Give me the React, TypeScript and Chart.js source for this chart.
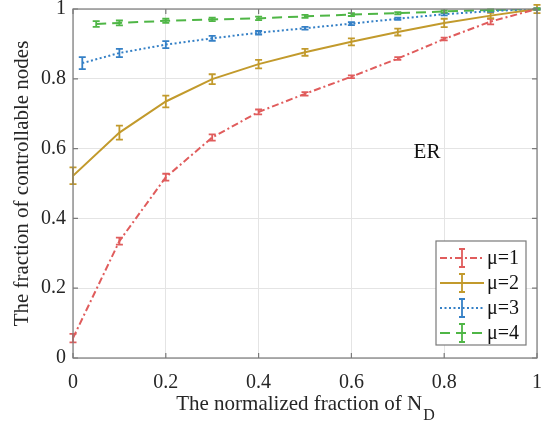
import React, { useEffect, useRef } from "react";
import { Chart, registerables } from "chart.js";
Chart.register(...registerables);

const xMain = [0, 0.1, 0.2, 0.3, 0.4, 0.5, 0.6, 0.7, 0.8, 0.9, 1.0];
const xBlue = [0.02, 0.1, 0.2, 0.3, 0.4, 0.5, 0.6, 0.7, 0.8, 0.9, 1.0];
const xGreen = [0.05, 0.1, 0.2, 0.3, 0.4, 0.5, 0.6, 0.7, 0.8, 0.9, 1.0];

const mu1 = [0.057, 0.335, 0.518, 0.632, 0.705, 0.757, 0.806, 0.858, 0.914, 0.964, 1.0];
const mu1Err = [0.012, 0.01, 0.01, 0.009, 0.007, 0.005, 0.004, 0.004, 0.004, 0.008, 0.002];
const mu2 = [0.522, 0.646, 0.735, 0.799, 0.842, 0.876, 0.906, 0.934, 0.96, 0.981, 1.0];
const mu2Err = [0.024, 0.02, 0.017, 0.014, 0.012, 0.01, 0.01, 0.01, 0.012, 0.008, 0.012];
const mu3 = [0.845, 0.874, 0.898, 0.916, 0.932, 0.945, 0.958, 0.972, 0.985, 0.994, 1.0];
const mu3Err = [0.017, 0.012, 0.01, 0.007, 0.005, 0.004, 0.004, 0.003, 0.003, 0.002, 0.002];
const mu4 = [0.957, 0.96, 0.966, 0.97, 0.973, 0.979, 0.984, 0.988, 0.993, 0.997, 1.0];
const mu4Err = [0.008, 0.007, 0.006, 0.005, 0.005, 0.004, 0.004, 0.003, 0.003, 0.002, 0.002];

const seriesLabels = ["\u03bc=1", "\u03bc=2", "\u03bc=3", "\u03bc=4"];
const tickValues = [0, 0.2, 0.4, 0.6, 0.8, 1];
const xTitle = "The normalized fraction of N";
const xTitleSub = "D";
const yTitle = "The fraction of controllable nodes";
const annotation = "ER";

const COLORS = ["#E05C5C", "#C29A2C", "#3580C6", "#4FB646"];
const DASHES = [[7, 3, 2, 3], [], [2, 2.5], [10, 6]];
const FONT = "'Liberation Serif', 'Times New Roman', serif";
const AXIS = "#7a7a7a";

const fmt = (v: number) => String(Number(v.toFixed(1)));

export default function App() {
  const ref = useRef<HTMLCanvasElement | null>(null);
  useEffect(() => {
    const canvas = ref.current;
    if (!canvas) return;
    const xs = [xMain, xMain, xBlue, xGreen];
    const ys = [mu1, mu2, mu3, mu4];
    const errs = [mu1Err, mu2Err, mu3Err, mu4Err];

    const overlay = {
      id: "overlay",
      afterDatasetsDraw(chart: any) {
        const ctx = chart.ctx;
        const xS = chart.scales.x;
        const yS = chart.scales.y;
        const { left, right, top, bottom } = chart.chartArea;
        // error bars
        ctx.save();
        ys.forEach((arr, i) => {
          ctx.strokeStyle = COLORS[i];
          ctx.lineWidth = 1.8;
          ctx.setLineDash([]);
          arr.forEach((v, j) => {
            const px = xS.getPixelForValue(xs[i][j]);
            const y1 = yS.getPixelForValue(v - errs[i][j]);
            const y2 = yS.getPixelForValue(v + errs[i][j]);
            ctx.beginPath();
            ctx.moveTo(px, y1);
            ctx.lineTo(px, y2);
            ctx.moveTo(px - 3.5, y1);
            ctx.lineTo(px + 3.5, y1);
            ctx.moveTo(px - 3.5, y2);
            ctx.lineTo(px + 3.5, y2);
            ctx.stroke();
          });
        });
        ctx.restore();

        // box and ticks
        ctx.save();
        ctx.strokeStyle = AXIS;
        ctx.lineWidth = 1.2;
        ctx.setLineDash([]);
        ctx.strokeRect(left, top, right - left, bottom - top);
        ctx.beginPath();
        tickValues.forEach((t) => {
          const px = xS.getPixelForValue(t);
          ctx.moveTo(px, bottom);
          ctx.lineTo(px, bottom - 5);
          ctx.moveTo(px, top);
          ctx.lineTo(px, top + 5);
          const py = yS.getPixelForValue(t);
          ctx.moveTo(left, py);
          ctx.lineTo(left + 5, py);
          ctx.moveTo(right, py);
          ctx.lineTo(right - 5, py);
        });
        ctx.stroke();
        ctx.restore();

        // annotation
        ctx.save();
        ctx.fillStyle = "#111";
        ctx.font = `21px ${FONT}`;
        ctx.textAlign = "center";
        ctx.textBaseline = "alphabetic";
        ctx.fillText(annotation, xS.getPixelForValue(0.763), yS.getPixelForValue(0.573));
        ctx.restore();

        // legend
        ctx.save();
        const lx = 436, ly = 241, lw = 90, lh = 104;
        ctx.fillStyle = "#fff";
        ctx.fillRect(lx, ly, lw, lh);
        ctx.strokeStyle = AXIS;
        ctx.lineWidth = 1.2;
        ctx.strokeRect(lx, ly, lw, lh);
        seriesLabels.forEach((lab, i) => {
          const cy = 258 + i * 25;
          ctx.strokeStyle = COLORS[i];
          ctx.lineWidth = 2;
          ctx.setLineDash(DASHES[i]);
          ctx.beginPath();
          ctx.moveTo(440, cy);
          ctx.lineTo(484, cy);
          ctx.stroke();
          ctx.setLineDash([]);
          ctx.lineWidth = 1.8;
          ctx.beginPath();
          ctx.moveTo(462, cy - 9);
          ctx.lineTo(462, cy + 9);
          ctx.moveTo(459, cy - 9);
          ctx.lineTo(465, cy - 9);
          ctx.moveTo(459, cy + 9);
          ctx.lineTo(465, cy + 9);
          ctx.stroke();
          ctx.fillStyle = "#111";
          ctx.font = `20px ${FONT}`;
          ctx.textAlign = "left";
          ctx.textBaseline = "middle";
          ctx.fillText(lab, 487, cy + 1);
        });
        ctx.restore();

        // x title with subscript
        ctx.save();
        ctx.fillStyle = "#262626";
        ctx.font = `21px ${FONT}`;
        ctx.textBaseline = "alphabetic";
        ctx.textAlign = "left";
        const w1 = ctx.measureText(xTitle).width;
        ctx.font = `16px ${FONT}`;
        const w2 = ctx.measureText(xTitleSub).width;
        const cx = (left + right) / 2;
        const sx = cx - (w1 + w2) / 2;
        ctx.font = `21px ${FONT}`;
        ctx.fillText(xTitle, sx, 410);
        ctx.font = `16px ${FONT}`;
        ctx.fillText(xTitleSub, sx + w1 + 1, 420);
        ctx.restore();
      },
    };

    const chart = new Chart(canvas, {
      type: "line",
      data: {
        datasets: ys.map((arr, i) => ({
          label: seriesLabels[i],
          data: arr.map((v, j) => ({ x: xs[i][j], y: v })),
          borderColor: COLORS[i],
          backgroundColor: COLORS[i],
          borderWidth: 2,
          borderDash: DASHES[i],
          pointRadius: 0,
          tension: 0,
          fill: false,
        })),
      },
      options: {
        responsive: false,
        animation: false,
        devicePixelRatio: 1,
        layout: { padding: { left: 0, right: 7, top: 9, bottom: 0 } },
        plugins: { legend: { display: false }, tooltip: { enabled: false }, title: { display: false } },
        scales: {
          x: {
            type: "linear",
            min: 0,
            max: 1,
            afterBuildTicks: (s: any) => { s.ticks = tickValues.map((v) => ({ value: v })); },
            afterFit: (s: any) => { s.height = 69; s.paddingLeft = 0; s.paddingRight = 0; },
            grid: { color: "#e4e4e4", lineWidth: 1, drawTicks: false },
            border: { display: false },
            ticks: {
              padding: 13,
              color: "#262626",
              font: { family: FONT, size: 20 },
              maxRotation: 0,
              autoSkip: false,
              callback: (v: any) => fmt(Number(v)),
            },
          },
          y: {
            type: "linear",
            min: 0,
            max: 1,
            afterBuildTicks: (s: any) => { s.ticks = tickValues.map((v) => ({ value: v })); },
            afterFit: (s: any) => { s.width = 73; s.paddingTop = 0; s.paddingBottom = 0; },
            grid: { color: "#e4e4e4", lineWidth: 1, drawTicks: false },
            border: { display: false },
            title: {
              display: true,
              text: yTitle,
              color: "#262626",
              font: { family: FONT, size: 21 },
              padding: { top: 10, bottom: 0 },
            },
            ticks: {
              padding: 7,
              color: "#262626",
              font: { family: FONT, size: 20 },
              autoSkip: false,
              callback: (v: any) => fmt(Number(v)),
            },
          },
        },
      },
      plugins: [overlay],
    } as any);
    return () => chart.destroy();
  }, []);

  return (
    <div style={{ position: "fixed", left: 0, top: 0, width: 544, height: 427, background: "#fff" }}>
      <canvas ref={ref} width={544} height={427} style={{ width: 544, height: 427, display: "block" }} />
    </div>
  );
}
